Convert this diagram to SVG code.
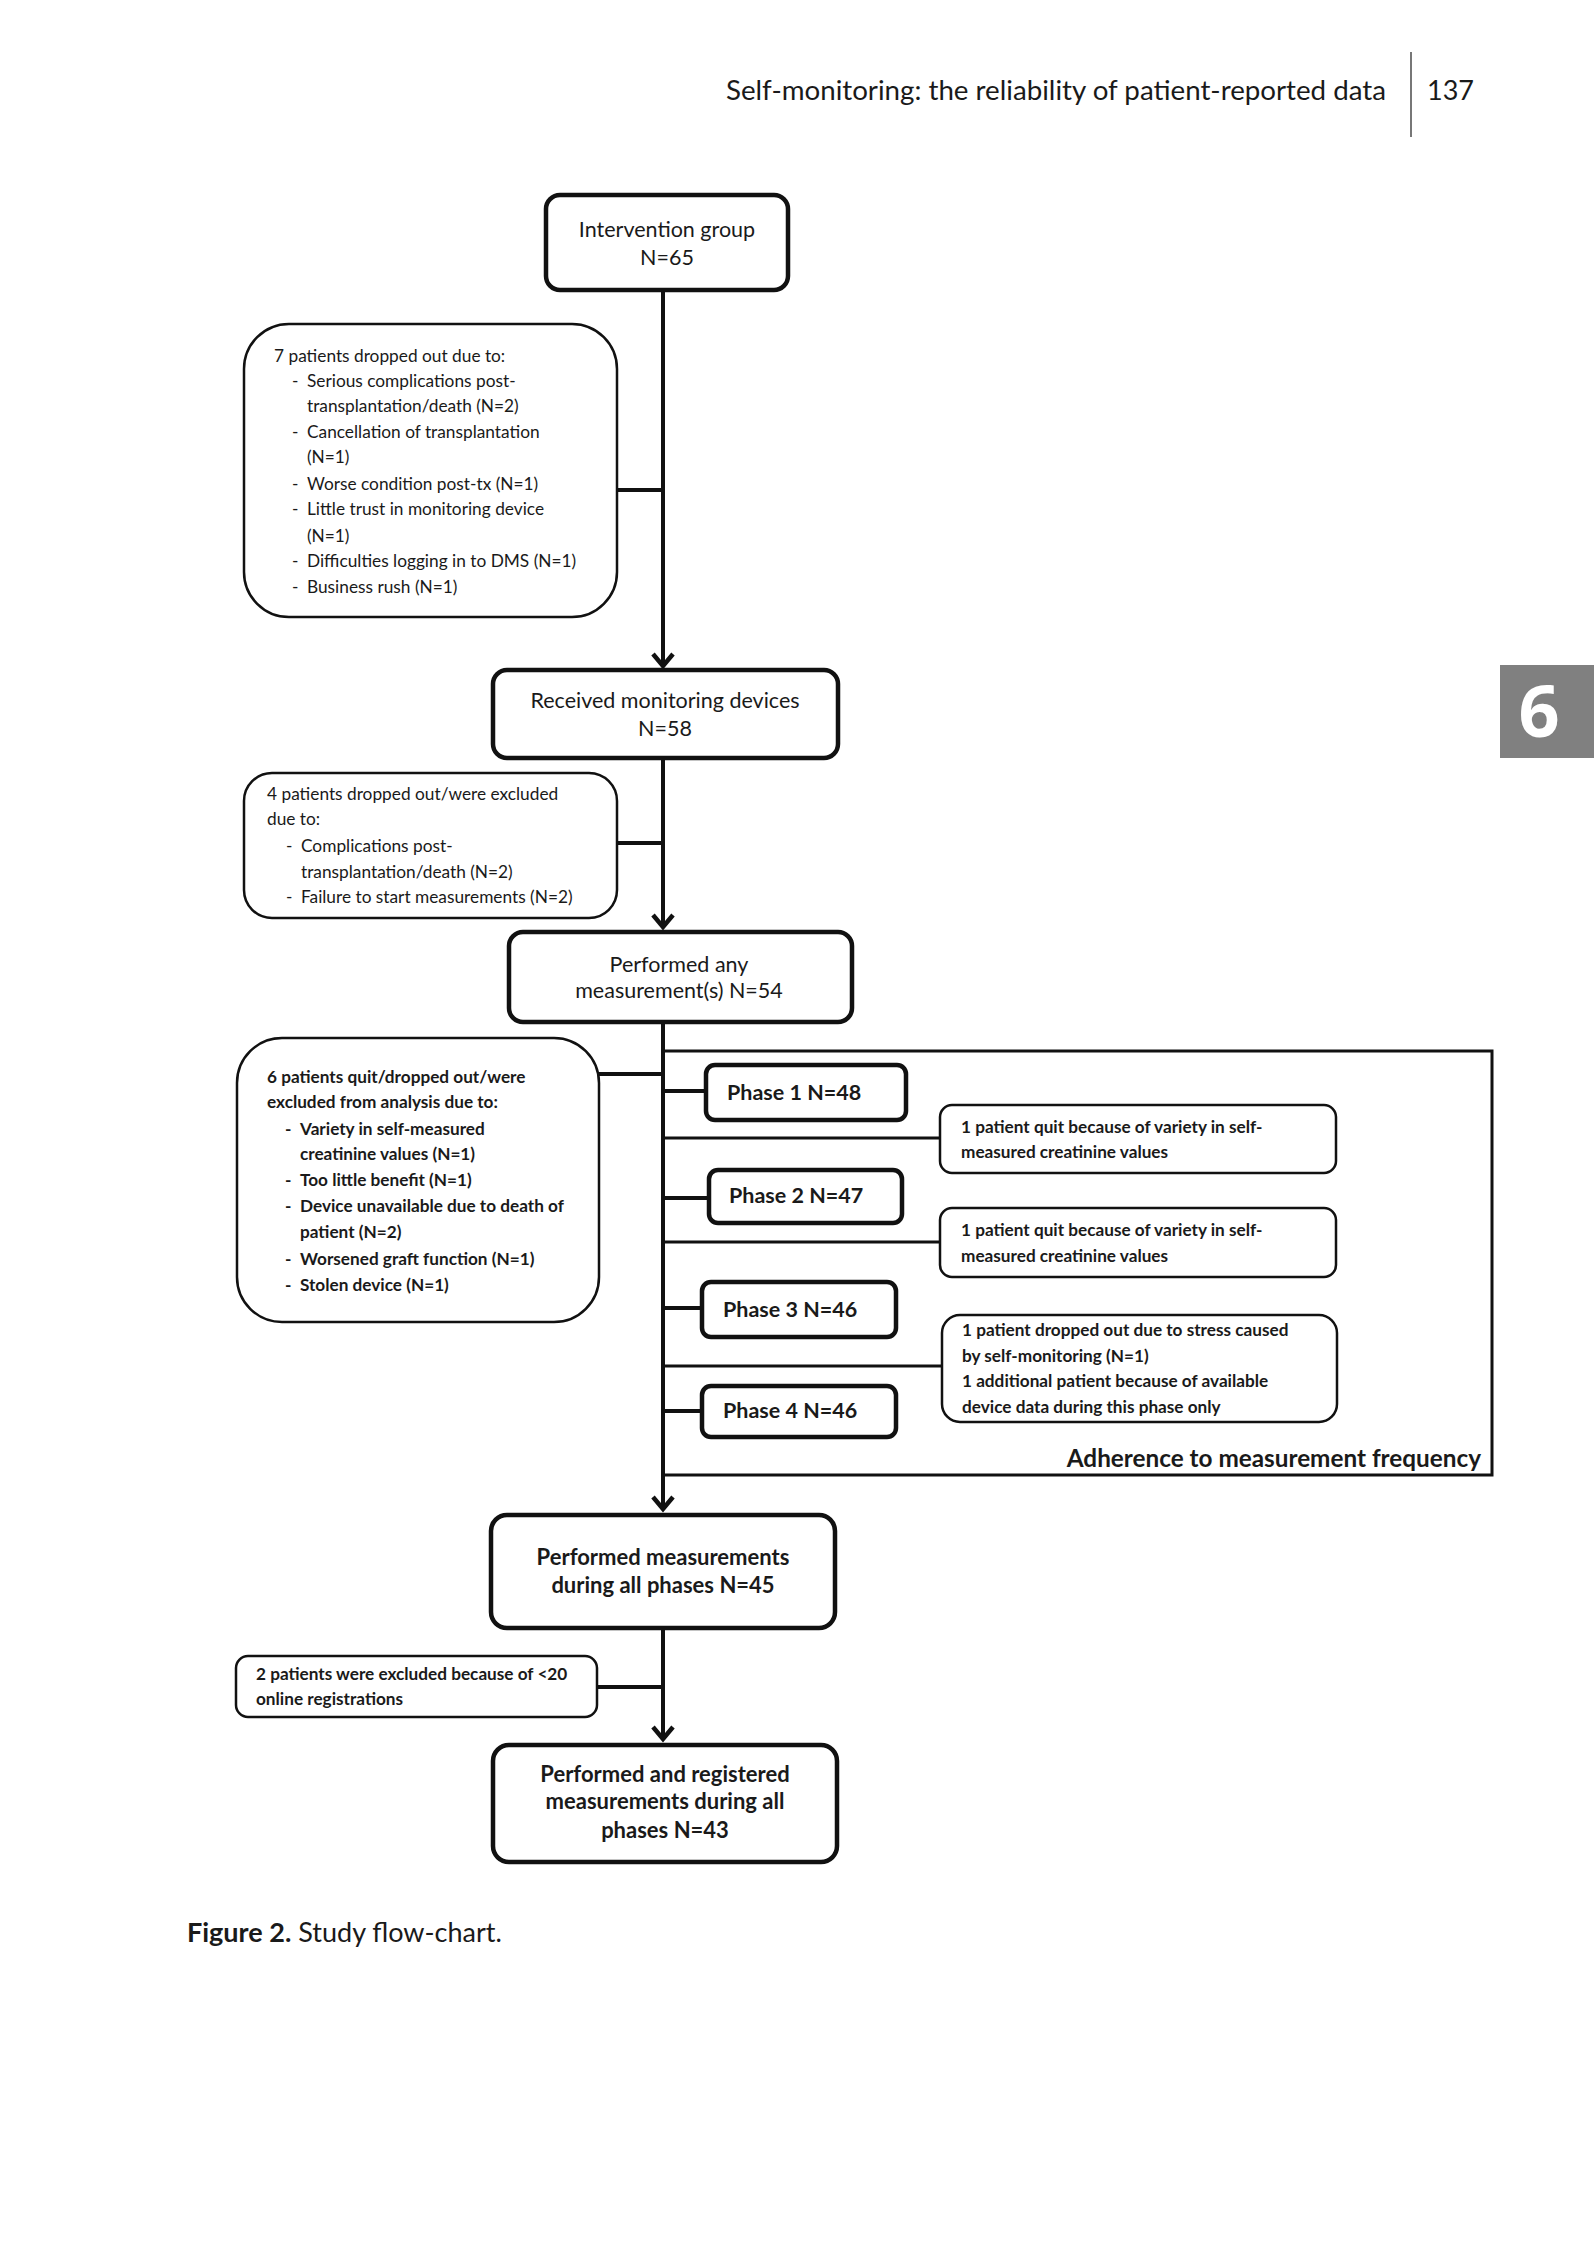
<svg xmlns="http://www.w3.org/2000/svg" width="1594" height="2250" viewBox="0 0 1594 2250">
<defs>
<style>
.t{font-family:Lato,"Liberation Sans",sans-serif;fill:#1a1a1a}
.b{font-weight:bold}
.main{fill:#fff;stroke:#111;stroke-width:4.5}
.drop{fill:#fff;stroke:#111;stroke-width:2.5}
.ph{fill:#fff;stroke:#111;stroke-width:4.5}
.ln{stroke:#111;stroke-width:4;fill:none}
.ln3{stroke:#111;stroke-width:3;fill:none}
.s17{font-size:17.3px}
.s16{font-size:17.2px}
.s21{font-size:21.5px}
.s22{font-size:22px}
</style>
<marker id="ah" viewBox="-14 -14 28 28" markerWidth="28" markerHeight="28" markerUnits="userSpaceOnUse" orient="auto" refX="0" refY="0">
<path d="M-12,-10 L0,0 L-12,10" fill="none" stroke="#111" stroke-width="4.5" stroke-linejoin="miter"/>
</marker>
</defs>
<rect width="1594" height="2250" fill="#fff"/>

<g id="header">
<text class="t" x="726" y="100" font-size="27" textLength="660" lengthAdjust="spacingAndGlyphs">Self-monitoring: the reliability of patient-reported data</text>
<line x1="1411" y1="52" x2="1411" y2="137" stroke="#777" stroke-width="2"/>
<text class="t" x="1427" y="100" font-size="27">137</text>
</g>

<g id="tab">
<rect x="1500" y="665" width="94" height="93" fill="#808080"/>
<text x="1539" y="737" font-family="'Open Sans','Liberation Sans',sans-serif" font-weight="bold" font-size="72" fill="#fff" text-anchor="middle">6</text>
</g>

<g id="connectors">
<line class="ln" x1="663" y1="290" x2="663" y2="666" marker-end="url(#ah)"/>
<line class="ln" x1="617" y1="490" x2="663" y2="490"/>
<line class="ln" x1="663" y1="758" x2="663" y2="927" marker-end="url(#ah)"/>
<line class="ln" x1="617" y1="843" x2="663" y2="843"/>
<line class="ln" x1="663" y1="1022" x2="663" y2="1509" marker-end="url(#ah)"/>
<line class="ln" x1="599" y1="1074" x2="663" y2="1074"/>
<line class="ln" x1="663" y1="1091" x2="706" y2="1091"/>
<line class="ln" x1="663" y1="1198" x2="709" y2="1198"/>
<line class="ln" x1="663" y1="1308" x2="702" y2="1308"/>
<line class="ln" x1="663" y1="1411" x2="702" y2="1411"/>
<line class="ln3" x1="663" y1="1138" x2="940" y2="1138"/>
<line class="ln3" x1="663" y1="1242" x2="940" y2="1242"/>
<line class="ln3" x1="663" y1="1366" x2="942" y2="1366"/>
<line class="ln" x1="663" y1="1628" x2="663" y2="1739" marker-end="url(#ah)"/>
<line class="ln" x1="597" y1="1687" x2="663" y2="1687"/>
</g>

<g id="adherence-frame">
<polyline class="ln3" points="663,1051 1492,1051 1492,1475 663,1475" stroke-width="3.5"/>
<text class="t b" font-size="24.3px" x="1481" y="1467" text-anchor="end">Adherence to measurement frequency</text>
</g>

<g id="intervention">
<rect class="main" x="546" y="195" width="242" height="95" rx="14"/>
<text class="t s21" x="667" y="237" text-anchor="middle">Intervention group</text>
<text class="t s21" x="667" y="265" text-anchor="middle">N=65</text>
</g>

<g id="dropout1">
<rect class="drop" x="244" y="324" width="373" height="293" rx="45"/>
<text class="t s17" x="274" y="362">7 patients dropped out due to:</text>
<text class="t s17" x="292" y="387">-</text><text class="t s17" x="307" y="387">Serious complications post-</text>
<text class="t s17" x="307" y="412">transplantation/death (N=2)</text>
<text class="t s17" x="292" y="438">-</text><text class="t s17" x="307" y="438">Cancellation of transplantation</text>
<text class="t s17" x="307" y="463">(N=1)</text>
<text class="t s17" x="292" y="490">-</text><text class="t s17" x="307" y="490">Worse condition post-tx (N=1)</text>
<text class="t s17" x="292" y="515">-</text><text class="t s17" x="307" y="515">Little trust in monitoring device</text>
<text class="t s17" x="307" y="542">(N=1)</text>
<text class="t s17" x="292" y="567">-</text><text class="t s17" x="307" y="567">Difficulties logging in to DMS (N=1)</text>
<text class="t s17" x="292" y="593">-</text><text class="t s17" x="307" y="593">Business rush (N=1)</text>
</g>

<g id="received">
<rect class="main" x="493" y="670" width="345" height="88" rx="14"/>
<text class="t s21" x="665" y="708" text-anchor="middle">Received monitoring devices</text>
<text class="t s21" x="665" y="736" text-anchor="middle">N=58</text>
</g>

<g id="dropout2">
<rect class="drop" x="244" y="773" width="373" height="145" rx="28"/>
<text class="t s17" x="267" y="800">4 patients dropped out/were excluded</text>
<text class="t s17" x="267" y="825">due to:</text>
<text class="t s17" x="286" y="852">-</text><text class="t s17" x="301" y="852">Complications post-</text>
<text class="t s17" x="301" y="878">transplantation/death (N=2)</text>
<text class="t s17" x="286" y="903">-</text><text class="t s17" x="301" y="903">Failure to start measurements (N=2)</text>
</g>

<g id="performed-any">
<rect class="main" x="509" y="932" width="343" height="90" rx="14"/>
<text class="t s21" x="679" y="972" text-anchor="middle">Performed any</text>
<text class="t s21" x="679" y="998" text-anchor="middle">measurement(s) N=54</text>
</g>

<g id="dropout3">
<rect class="drop" x="237" y="1038" width="362" height="284" rx="45"/>
<text class="t b s16" x="267" y="1083">6 patients quit/dropped out/were</text>
<text class="t b s16" x="267" y="1108">excluded from analysis due to:</text>
<text class="t b s16" x="285" y="1135">-</text><text class="t b s16" x="300" y="1135">Variety in self-measured</text>
<text class="t b s16" x="300" y="1160">creatinine values (N=1)</text>
<text class="t b s16" x="285" y="1186">-</text><text class="t b s16" x="300" y="1186">Too little benefit (N=1)</text>
<text class="t b s16" x="285" y="1212">-</text><text class="t b s16" x="300" y="1212">Device unavailable due to death of</text>
<text class="t b s16" x="300" y="1238">patient (N=2)</text>
<text class="t b s16" x="285" y="1265">-</text><text class="t b s16" x="300" y="1265">Worsened graft function (N=1)</text>
<text class="t b s16" x="285" y="1291">-</text><text class="t b s16" x="300" y="1291">Stolen device (N=1)</text>
</g>

<g id="phase1">
<rect class="ph" x="706" y="1065" width="200" height="55" rx="9"/>
<text class="t b s21" x="727" y="1100">Phase 1 N=48</text>
</g>
<g id="note1">
<rect class="drop" x="940" y="1105" width="396" height="68" rx="12"/>
<text class="t b s16" x="961" y="1133">1 patient quit because of variety in self-</text>
<text class="t b s16" x="961" y="1158">measured creatinine values</text>
</g>
<g id="phase2">
<rect class="ph" x="709" y="1170" width="193" height="53" rx="9"/>
<text class="t b s21" x="729" y="1203">Phase 2 N=47</text>
</g>
<g id="note2">
<rect class="drop" x="940" y="1208" width="396" height="69" rx="12"/>
<text class="t b s16" x="961" y="1236">1 patient quit because of variety in self-</text>
<text class="t b s16" x="961" y="1262">measured creatinine values</text>
</g>
<g id="phase3">
<rect class="ph" x="702" y="1282" width="194" height="55" rx="9"/>
<text class="t b s21" x="723" y="1317">Phase 3 N=46</text>
</g>
<g id="note3">
<rect class="drop" x="942" y="1315" width="395" height="107" rx="18"/>
<text class="t b s16" x="962" y="1336">1 patient dropped out due to stress caused</text>
<text class="t b s16" x="962" y="1362">by self-monitoring (N=1)</text>
<text class="t b s16" x="962" y="1387">1 additional patient because of available</text>
<text class="t b s16" x="962" y="1413">device data during this phase only</text>
</g>
<g id="phase4">
<rect class="ph" x="702" y="1386" width="194" height="51" rx="9"/>
<text class="t b s21" x="723" y="1418">Phase 4 N=46</text>
</g>

<g id="performed-all">
<rect class="main" x="491" y="1515" width="344" height="113" rx="16"/>
<text class="t b s22" x="663" y="1565" text-anchor="middle">Performed measurements</text>
<text class="t b s22" x="663" y="1593" text-anchor="middle">during all phases N=45</text>
</g>

<g id="dropout4">
<rect class="drop" x="236" y="1656" width="361" height="61" rx="12"/>
<text class="t b s16" x="256" y="1680">2 patients were excluded because of &lt;20</text>
<text class="t b s16" x="256" y="1705">online registrations</text>
</g>

<g id="registered">
<rect class="main" x="493" y="1745" width="344" height="117" rx="16"/>
<text class="t b s22" x="665" y="1782" text-anchor="middle">Performed and registered</text>
<text class="t b s22" x="665" y="1809" text-anchor="middle">measurements during all</text>
<text class="t b s22" x="665" y="1838" text-anchor="middle">phases N=43</text>
</g>

<g id="caption">
<text class="t" x="187" y="1942" font-size="27"><tspan font-weight="bold">Figure 2.</tspan> Study flow-chart.</text>
</g>
</svg>
